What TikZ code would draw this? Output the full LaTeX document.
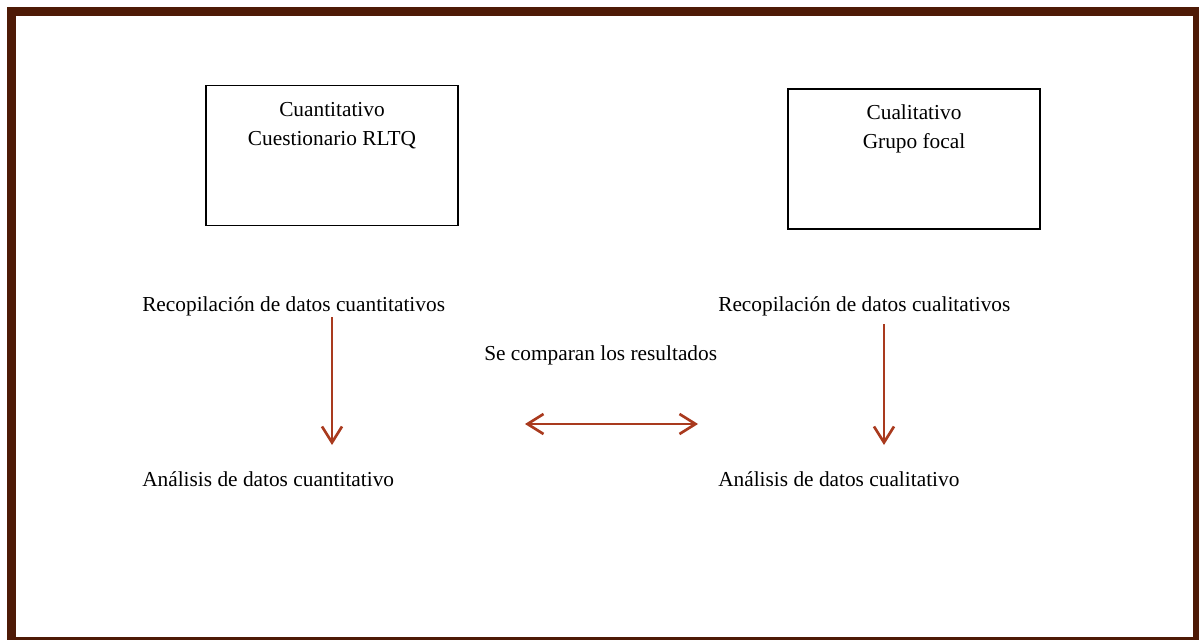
\documentclass[tikz,border=0pt]{standalone}
\usepackage{fontspec}
\setmainfont{Liberation Serif}
\usetikzlibrary{arrows.meta}
\definecolor{framebrown}{HTML}{4E1A06}
\definecolor{arrowred}{HTML}{A93A1E}
\begin{document}
\begin{tikzpicture}[x=0.75pt,y=-0.75pt,
  txt/.style={font=\fontsize{16}{21.75}\selectfont, inner sep=0pt},
  boxtitle/.style={txt, align=center, anchor=base},
  databox/.style={draw=black, line width=0.8pt, minimum width=252*0.75pt, minimum height=140*0.75pt, inner sep=0pt},
  flow/.style={draw=arrowred, line width=2pt, -{Straight Barb[length=12pt,width=15pt,line width=2pt]}},
  flowboth/.style={draw=arrowred, line width=2pt, {Straight Barb[length=12pt,width=15pt,line width=2pt]}-{Straight Barb[length=12pt,width=15pt,line width=2pt]}}]
\useasboundingbox (0,0) rectangle (1199,639);
\draw[framebrown, line width=7pt] (11.8,11.8) rectangle (1198,642);

\node[databox] (qbox) at (332,155.7) {};
\node[databox] (cbox) at (914,159) {};
\node[boxtitle] (qtitle) at (332,145) {Cuantitativo\\Cuestionario RLTQ};
\node[boxtitle] (ctitle) at (914,148.3) {Cualitativo\\Grupo focal};

\node[txt, anchor=base west] (rq) at (142,311.5) {Recopilación de datos cuantitativos};
\node[txt, anchor=base west] (rc) at (718,311.5) {Recopilación de datos cualitativos};
\node[txt, anchor=base west] (cmp) at (484,360) {Se comparan los resultados};
\node[txt, anchor=base west] (aq) at (142,486) {Análisis de datos cuantitativo};
\node[txt, anchor=base west] (ac) at (718,486) {Análisis de datos cualitativo};

\coordinate (q1) at (332,317);
\coordinate (q2) at (332,445);
\coordinate (c1) at (884,324);
\coordinate (c2) at (884,445);
\coordinate (l1) at (525,424);
\coordinate (l2) at (698,424);
\draw[flow] (q1) -- (q2);
\draw[flow] (c1) -- (c2);
\draw[flowboth] (l1) -- (l2);
\end{tikzpicture}
\end{document}
